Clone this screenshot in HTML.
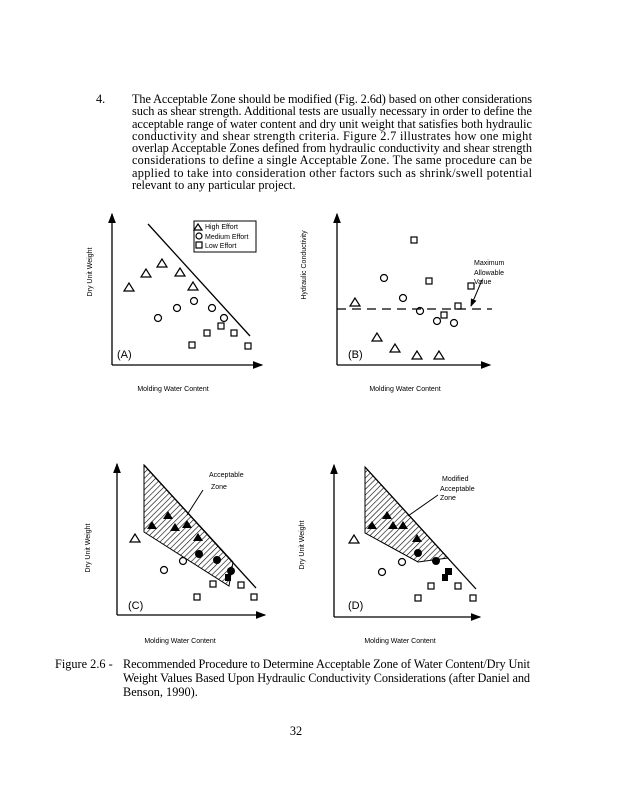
<!DOCTYPE html>
<html><head><meta charset="utf-8"><style>html,body{margin:0;padding:0;background:#fff}svg{display:block}</style></head>
<body>
<svg width="618" height="800" viewBox="0 0 618 800" xmlns="http://www.w3.org/2000/svg">
<defs>
<pattern id="h" width="4" height="4" patternUnits="userSpaceOnUse" patternTransform="rotate(45)">
<line x1="0" y1="0" x2="0" y2="4" stroke="#000" stroke-width="1.2"/>
</pattern>
<marker id="ar" markerWidth="8" markerHeight="8" refX="7" refY="4" orient="auto"><path d="M0,1 L8,4 L0,7 z" fill="#000"/></marker>
</defs>
<rect width="618" height="800" fill="#fff"/>
<g font-family="Liberation Serif, serif" font-size="12.3" fill="#000">
<text x="96" y="103">4.</text>
<text x="132" y="103" textLength="400" lengthAdjust="spacing">The Acceptable Zone should be modified (Fig. 2.6d) based on other considerations</text>
<text x="132" y="115" textLength="400" lengthAdjust="spacing">such as shear strength. Additional tests are usually necessary in order to define the</text>
<text x="132" y="128" textLength="400" lengthAdjust="spacing">acceptable range of water content and dry unit weight that satisfies both hydraulic</text>
<text x="132" y="140" textLength="400" lengthAdjust="spacing">conductivity and shear strength criteria. Figure 2.7 illustrates how one might</text>
<text x="132" y="152" textLength="400" lengthAdjust="spacing">overlap Acceptable Zones defined from hydraulic conductivity and shear strength</text>
<text x="132" y="164" textLength="400" lengthAdjust="spacing">considerations to define a single Acceptable Zone. The same procedure can be</text>
<text x="132" y="177" textLength="400" lengthAdjust="spacing">applied to take into consideration other factors such as shrink/swell potential</text>
<text x="132" y="189">relevant to any particular project.</text>
<text x="55" y="668">Figure 2.6 -</text>
<text x="123" y="668" textLength="407" lengthAdjust="spacing">Recommended Procedure to Determine Acceptable Zone of Water Content/Dry Unit</text>
<text x="123" y="682" textLength="407" lengthAdjust="spacing">Weight Values Based Upon Hydraulic Conductivity Considerations (after Daniel and</text>
<text x="123" y="696">Benson, 1990).</text>
<text x="296" y="735" text-anchor="middle">32</text>
</g>
<g stroke="#000" stroke-width="1.3" fill="none">
<!-- Panel A -->
<line x1="112" y1="365" x2="112" y2="214" marker-end="url(#ar)"/>
<line x1="112" y1="365" x2="262" y2="365" marker-end="url(#ar)"/>
<line x1="148" y1="224" x2="250" y2="336"/>
<rect x="194" y="221" width="62" height="31" stroke-width="1"/>
<!-- Panel B -->
<line x1="337" y1="365" x2="337" y2="214" marker-end="url(#ar)"/>
<line x1="337" y1="365" x2="490" y2="365" marker-end="url(#ar)"/>
<line x1="337" y1="309" x2="492" y2="309" stroke-dasharray="9,6"/>
<line x1="482" y1="280" x2="471" y2="306" marker-end="url(#ar)" stroke-width="1"/>
<!-- Panel C -->
<polygon points="144,465 233,562 229,586 144,532" fill="url(#h)" stroke-width="1"/>
<line x1="117" y1="615" x2="117" y2="464" marker-end="url(#ar)"/>
<line x1="117" y1="615" x2="265" y2="615" marker-end="url(#ar)"/>
<line x1="144" y1="465" x2="256" y2="588"/>
<line x1="203" y1="490" x2="187" y2="515" stroke-width="1"/>
<!-- Panel D -->
<polygon points="365,467 448,558 418,562 365,533" fill="url(#h)" stroke-width="1"/>
<line x1="334" y1="617" x2="334" y2="465" marker-end="url(#ar)"/>
<line x1="334" y1="617" x2="480" y2="617" marker-end="url(#ar)"/>
<line x1="365" y1="467" x2="476" y2="589"/>
<line x1="438" y1="495" x2="408" y2="516" stroke-width="1"/>
</g>
<g stroke="#000" stroke-width="1.2" fill="none">
<!-- A triangles -->
<path d="M129,283 l-5,8 h10 z M146,269 l-5,8 h10 z M162,259 l-5,8 h10 z M180,268 l-5,8 h10 z M193,282 l-5,8 h10 z"/>
<path d="M198,224 l-4,6 h8 z"/>
<circle cx="158" cy="318" r="3.5"/><circle cx="177" cy="308" r="3.5"/><circle cx="194" cy="301" r="3.5"/><circle cx="212" cy="308" r="3.5"/><circle cx="224" cy="318" r="3.5"/>
<circle cx="199" cy="236" r="3"/>
<rect x="218" y="323" width="6" height="6"/><rect x="204" y="330" width="6" height="6"/><rect x="231" y="330" width="6" height="6"/><rect x="189" y="342" width="6" height="6"/><rect x="245" y="343" width="6" height="6"/>
<rect x="196" y="242" width="6" height="6"/>
<!-- B -->
<rect x="411" y="237" width="6" height="6"/><rect x="426" y="278" width="6" height="6"/><rect x="468" y="283" width="6" height="6"/><rect x="455" y="303" width="6" height="6"/><rect x="441" y="312" width="6" height="6"/>
<circle cx="384" cy="278" r="3.5"/><circle cx="403" cy="298" r="3.5"/><circle cx="420" cy="311" r="3.5"/><circle cx="437" cy="321" r="3.5"/><circle cx="454" cy="323" r="3.5"/>
<path d="M355,298 l-5,8 h10 z M377,333 l-5,8 h10 z M395,344 l-5,8 h10 z M417,351 l-5,8 h10 z M439,351 l-5,8 h10 z"/>
<!-- C open -->
<path d="M135,534 l-5,8 h10 z"/>
<circle cx="183" cy="561" r="3.5"/><circle cx="164" cy="570" r="3.5"/>
<rect x="210" y="581" width="6" height="6"/><rect x="238" y="582" width="6" height="6"/><rect x="194" y="594" width="6" height="6"/><rect x="251" y="594" width="6" height="6"/>
<!-- D open -->
<path d="M354,535 l-5,8 h10 z"/>
<circle cx="402" cy="562" r="3.5"/><circle cx="382" cy="572" r="3.5"/>
<rect x="428" y="583" width="6" height="6"/><rect x="455" y="583" width="6" height="6"/><rect x="415" y="595" width="6" height="6"/><rect x="470" y="595" width="6" height="6"/>
</g>
<g fill="#000">
<path d="M152,521 l-5,8 h10 z M168,511 l-5,8 h10 z M175,523 l-5,8 h10 z M187,520 l-5,8 h10 z M198,533 l-5,8 h10 z"/>
<circle cx="199" cy="554" r="4"/><circle cx="217" cy="560" r="4"/><circle cx="231" cy="571" r="4"/><rect x="225" y="574" width="6" height="7"/>
<path d="M372,521 l-5,8 h10 z M387,511 l-5,8 h10 z M393,521 l-5,8 h10 z M403,521 l-5,8 h10 z M417,534 l-5,8 h10 z"/>
<circle cx="418" cy="553" r="4"/><circle cx="436" cy="561" r="4"/><rect x="445" y="568" width="7" height="7"/><rect x="442" y="574" width="6" height="7"/>
</g>
<g font-family="Liberation Sans, sans-serif" font-size="7" fill="#000">
<text x="205" y="229">High Effort</text>
<text x="205" y="239">Medium Effort</text>
<text x="205" y="248">Low Effort</text>
<text x="117" y="358" font-size="11">(A)</text>
<text x="348" y="358" font-size="11">(B)</text>
<text x="128" y="609" font-size="11">(C)</text>
<text x="348" y="609" font-size="11">(D)</text>
<text x="173" y="391" text-anchor="middle">Molding Water Content</text>
<text x="405" y="391" text-anchor="middle">Molding Water Content</text>
<text x="180" y="643" text-anchor="middle">Molding Water Content</text>
<text x="400" y="643" text-anchor="middle">Molding Water Content</text>
<text transform="translate(92,272) rotate(-90)" text-anchor="middle">Dry Unit Weight</text>
<text transform="translate(306,265) rotate(-90)" text-anchor="middle">Hydraulic Conductivity</text>
<text transform="translate(90,548) rotate(-90)" text-anchor="middle">Dry Unit Weight</text>
<text transform="translate(304,545) rotate(-90)" text-anchor="middle">Dry Unit Weight</text>
<text x="474" y="265">Maximum</text>
<text x="474" y="275">Allowable</text>
<text x="474" y="284">Value</text>
<text x="209" y="477">Acceptable</text>
<text x="211" y="489">Zone</text>
<text x="442" y="481">Modified</text>
<text x="440" y="491">Acceptable</text>
<text x="440" y="500">Zone</text>
</g>
</svg>
</body></html>
